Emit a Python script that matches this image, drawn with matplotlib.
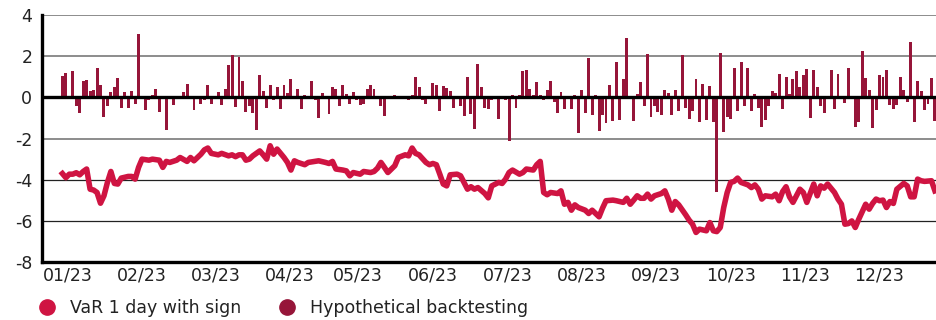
import numpy as np
import matplotlib.pyplot as plt
from matplotlib.lines import Line2D

# daily hypothetical backtesting P&L (one bar per trading day)
backtest = [
    1.05, 1.2, 0.0, 1.3, -0.4, -0.75, 0.8, 0.85, 0.3, 0.35,
    1.45, 0.6, -0.95, -0.4, 0.25, 0.5, 0.95, -0.5, 0.25, -0.5,
    0.3, -0.3, 3.1, 0.0, -0.6, -0.15, 0.1, 0.4, -0.7, -0.1,
    -1.6, 0.0, -0.35, -0.05, 0.0, 0.25, 0.65, -0.1, -0.6, -0.05,
    -0.3, -0.15, 0.6, -0.3, 0.0, 0.25, -0.35, 0.4, 1.55, 2.05,
    -0.45, 1.95, 0.8, -0.7, -0.4, -0.75, -1.6, 1.1, 0.3, -0.5,
    0.6, -0.15, 0.5, -0.55, 0.6, 0.2, 0.9, -0.1, 0.4, -0.55,
    0.1, -0.1, 0.8, -0.15, -1.0, 0.2, 0.0, -0.8, 0.52, 0.43,
    -0.4, 0.62, 0.18, -0.3, 0.28, -0.15, -0.38, -0.3, 0.43, 0.62,
    0.43, -0.1, -0.44, -0.88, -0.1, 0.0, 0.1, -0.05, 0.0, 0.08,
    -0.15, 0.1, 0.97, 0.52, -0.15, -0.3, 0.0, 0.72, 0.62, -0.64,
    0.57, 0.48, 0.33, -0.5, -0.1, -0.4, -0.88, 0.97, -0.8, -1.52,
    1.6, 0.52, -0.5, -0.55, -0.15, 0.0, -1.03, 0.0, -0.15, -2.13,
    0.1, -0.5, 0.1, 1.26, 1.31, 0.43, 0.1, 0.77, 0.1, -0.15,
    0.38, 0.82, -0.2, -0.74, 0.28, -0.55, -0.1, -0.55, 0.1, -1.72,
    0.38, -0.74, 1.9, -0.84, 0.1, -1.62, -0.84, -1.22, 0.62, -1.17,
    1.74, -1.08, 0.91, 2.9, 0.0, -1.13, 0.18, 0.77, -0.44, 2.1,
    -0.93, -0.4, -0.69, -0.84, 0.38, 0.23, -0.84, 0.38, -0.64, 2.05,
    -0.5, -1.03, -0.64, 0.87, -1.18, 0.67, -1.08, 0.57, -1.18, -4.6,
    2.15, -1.67, -0.93, -1.03, 1.41, -0.64, 1.7, -0.44, 1.41, -0.64,
    0.18, -0.5, -1.43, -1.08, -0.4, 0.33, 0.23, 1.16, -0.55, 1.0,
    0.18, 0.87, 1.26, 0.52, 1.11, 1.36, -0.98, 1.31, 0.52, -0.4,
    -0.74, 0.0, 1.31, -0.55, 1.16, 0.0, -0.25, 1.41, -0.1, -1.43,
    -1.18, 2.25, 0.92, 0.38, -1.48, -0.6, 1.07, 0.97, 1.31, -0.35,
    -0.55, -0.35, 0.97, 0.38, -0.2, 2.69, -1.18, 0.82, 0.33, -0.6,
    -0.3, 0.92, -1.13,
]

# VaR readings (trading day index, value)
var_days = [
    0, 1, 2, 3, 4, 5, 6, 7, 8, 9, 10, 11, 12, 13, 14, 15, 16, 17, 19, 20,
    21, 22, 23, 25, 26, 28, 29, 30, 31, 33, 34, 36, 37, 38, 40, 41, 42, 43, 45, 46,
    48, 49, 50, 51, 52, 53, 54, 55, 57, 58, 59, 60, 61, 62, 64, 65, 66, 67, 68, 70,
    71, 73, 74, 76, 77, 78, 79, 81, 82, 83, 84, 86, 87, 89, 90, 91, 92, 93, 94, 96,
    97, 99, 100, 101, 102, 103, 105, 106, 107, 108, 109, 110, 111, 112, 114, 115, 117, 118, 119, 120,
    122, 123, 124, 126, 127, 128, 129, 130, 132, 133, 134, 136, 137, 138, 139, 140, 141, 143, 144, 145,
    146, 147, 148, 149, 151, 152, 153, 154, 155, 156, 157, 159, 160, 162, 163, 164, 165, 166, 167, 168,
    169, 170, 171, 173, 174, 175, 176, 177, 178, 180, 181, 182, 183, 184, 186, 187, 188, 189, 190, 191,
    192, 193, 194, 195, 196, 198, 199, 200, 201, 202, 203, 205, 206, 207, 208, 209, 210, 211, 213, 214,
    215, 217, 218, 219, 220, 221, 223, 224, 225, 226, 227, 228, 229, 230, 232, 233, 234, 235, 236, 237,
    238, 239, 240, 241, 243, 244, 245, 246, 247, 248, 249, 251, 252,
]
var_values = [
    -3.7, -3.9, -3.73, -3.73, -3.66, -3.76, -3.6, -3.48, -4.46, -4.5, -4.62, -5.14, -4.78, -4.13, -3.6, -4.18, -4.21, -3.92, -3.84, -3.84,
    -3.97, -3.4, -3.0, -3.05, -3.0, -3.05, -3.4, -3.11, -3.16, -3.05, -2.92, -3.11, -2.92, -3.08, -2.76, -2.55, -2.46, -2.72, -2.79, -2.72,
    -2.84, -2.79, -2.88, -2.79, -2.79, -3.05, -3.0, -2.84, -2.6, -2.79, -3.0, -2.35, -2.76, -2.51, -2.92, -3.16, -3.53, -3.08, -3.16, -3.27,
    -3.16, -3.11, -3.08, -3.16, -3.21, -3.11, -3.48, -3.53, -3.57, -3.81, -3.65, -3.73, -3.6, -3.65, -3.6, -3.44, -3.16, -3.4, -3.65, -3.32,
    -2.92, -2.79, -2.84, -2.46, -2.72, -2.79, -3.16, -3.27, -3.21, -3.27, -3.73, -4.21, -4.3, -3.76, -3.73, -3.81, -4.46, -4.34, -4.46, -4.38,
    -4.67, -4.88, -4.3, -4.13, -4.18, -3.97, -3.65, -3.53, -3.73, -3.65, -3.48, -3.53, -3.27, -3.11, -4.62, -4.73, -4.62, -4.67, -4.54, -5.19,
    -5.1, -5.48, -5.22, -5.35, -5.48, -5.64, -5.48, -5.64, -5.8, -5.38, -5.02, -4.99, -5.02, -5.1, -4.9, -5.19, -4.99, -4.78, -4.9, -4.9,
    -4.7, -4.94, -4.78, -4.67, -4.54, -4.94, -5.48, -5.06, -5.22, -5.7, -5.96, -6.16, -6.56, -6.4, -6.48, -6.08, -6.48, -6.52, -6.32, -5.35,
    -4.62, -4.13, -4.08, -3.92, -4.13, -4.25, -4.38, -4.25, -4.46, -4.94, -4.78, -4.83, -4.7, -5.02, -4.58, -4.34, -4.83, -5.1, -4.46, -4.62,
    -5.1, -4.21, -4.78, -4.3, -4.41, -4.21, -4.62, -4.94, -5.19, -6.16, -6.13, -6.0, -6.32, -5.92, -5.19, -5.43, -5.15, -4.94, -5.02, -4.99,
    -5.35, -5.06, -5.15, -4.46, -4.18, -4.3, -4.83, -4.83, -3.97, -4.05, -4.08, -4.05, -4.54,
]

month_labels = ["01/23", "02/23", "03/23", "04/23", "05/23", "06/23",
                "07/23", "08/23", "09/23", "10/23", "11/23", "12/23"]
month_pos = [1.6, 23.0, 44.3, 65.7, 85.4, 107.0, 128.7, 150.1, 171.4, 193.1, 214.5, 235.9]

bar_color = "#961539"
line_color = "#cf1442"

plt.rcParams['font.family'] = ['DejaVu Sans']

fig = plt.figure(figsize=(9.37, 3.2), dpi=100)
ax = fig.add_axes([0.0448, 0.181, 0.9552, 0.772])

days = np.arange(len(backtest))
ax.bar(days, backtest, width=0.85, color=bar_color, zorder=3)
ax.plot(var_days, var_values, color=line_color, lw=4.0, solid_joinstyle='round', zorder=4)

# grid lines
for y in [4, 2, -2]:
    ax.axhline(y, color="#8c8c8c", lw=1.4, zorder=1)
for y in [-4, -6]:
    ax.axhline(y, color="#222222", lw=0.9, zorder=1)
ax.axhline(0, color="black", lw=2.4, zorder=5)

ax.set_ylim(-8, 4)
ax.set_xlim(-5.9, 252.6)
ax.set_yticks([4, 2, 0, -2, -4, -6, -8])
ax.set_yticklabels(["4", "2", "0", "-2", "-4", "-6", "-8"])
ax.set_xticks(month_pos)
ax.set_xticklabels(month_labels)
ax.tick_params(axis='both', length=0, labelsize=12.5, colors="#222222")
ax.tick_params(axis='y', pad=7)
ax.tick_params(axis='x', pad=3)

for side in ["top", "right"]:
    ax.spines[side].set_visible(False)
ax.spines["left"].set_linewidth(2.4)
ax.spines["bottom"].set_linewidth(2.4)
ax.spines["left"].set_zorder(6)
ax.spines["bottom"].set_zorder(6)

handles = [
    Line2D([], [], marker='o', ls='none', ms=11, color=line_color),
    Line2D([], [], marker='o', ls='none', ms=11, color=bar_color),
]
fig.legend(handles, ["VaR 1 day with sign", "Hypothetical backtesting"],
           loc='center left', bbox_to_anchor=(0.032, 0.036), ncol=2, frameon=False,
           fontsize=12.5, handlelength=1.2, handletextpad=0.72, columnspacing=2.0,
           labelcolor="#222222", borderaxespad=0)

fig.savefig("out.png", dpi=100)
